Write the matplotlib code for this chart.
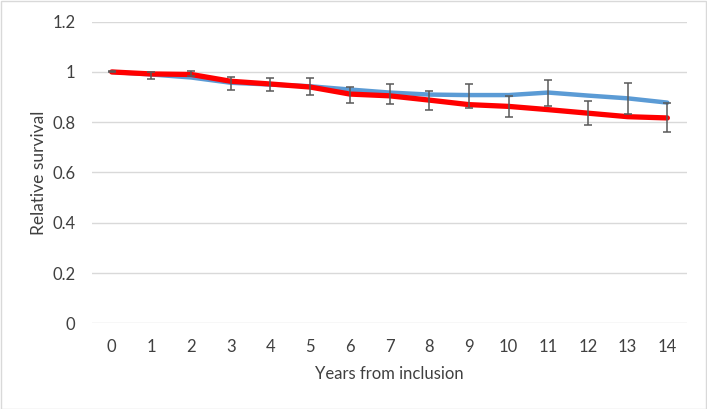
import matplotlib
matplotlib.use('Agg')
import matplotlib.pyplot as plt
from matplotlib.patches import Rectangle
import numpy as np

# data
years = list(range(15))
blue_vals = [1.0, 0.99, 0.978, 0.957, 0.95, 0.943, 0.93, 0.918, 0.91, 0.908,
             0.908, 0.918, 0.906, 0.895, 0.878]
red_vals = [1.0, 0.992, 0.99, 0.963, 0.952, 0.94, 0.912, 0.905, 0.888, 0.87,
            0.863, 0.85, 0.836, 0.822, 0.817]
err_low = [0.998, 0.972, 0.985, 0.93, 0.925, 0.908, 0.876, 0.872, 0.848, 0.858,
           0.82, 0.864, 0.788, 0.832, 0.76]
err_high = [1.002, 0.998, 1.003, 0.98, 0.975, 0.976, 0.94, 0.953, 0.923, 0.952,
            0.905, 0.968, 0.885, 0.955, 0.876]
y_ticks = [0, 0.2, 0.4, 0.6, 0.8, 1.0, 1.2]
y_tick_labels = ['0', '0.2', '0.4', '0.6', '0.8', '1', '1.2']

plt.rcParams['font.family'] = ['Lato', 'DejaVu Sans']

fig = plt.figure(figsize=(7.07, 4.09), dpi=100)
ax = fig.add_axes([0.130, 0.2095, 0.842, 0.7375])

ax.plot(years, blue_vals, color='#5b9bd5', linewidth=3.2, solid_capstyle='round', zorder=3)
ax.plot(years, red_vals, color='#ff0000', linewidth=3.8, solid_capstyle='round', zorder=4)

lo = np.array(err_low)
hi = np.array(err_high)
mid = (lo + hi) / 2
ax.errorbar(years, mid, yerr=(hi - lo) / 2, fmt='none', ecolor='#595959',
            elinewidth=1.1, capsize=3, capthick=1.1, zorder=5)

ax.set_xlim(-0.5, 14.5)
ax.set_ylim(0, 1.2)
ax.set_xticks(years)
ax.set_xticklabels([str(y) for y in years])
ax.set_yticks(y_ticks)
ax.set_yticklabels(y_tick_labels)
ax.tick_params(axis='both', length=0, labelsize=12, colors='#404040')
ax.tick_params(axis='y', pad=12)
ax.tick_params(axis='x', pad=11)

ax.grid(axis='y', color='#d9d9d9', linewidth=1.0)
ax.set_axisbelow(True)
for s in ax.spines.values():
    s.set_visible(False)

ax.set_xlabel('Years from inclusion', fontsize=12, color='#404040', labelpad=8)
ax.set_ylabel('Relative survival', fontsize=12.5, color='#404040', labelpad=4)

fig.patches.append(Rectangle((0.001, 0.001), 0.997, 0.997, transform=fig.transFigure,
                             fill=False, edgecolor='#d9d9d9', linewidth=1.0))

fig.savefig('out.png', dpi=100)
